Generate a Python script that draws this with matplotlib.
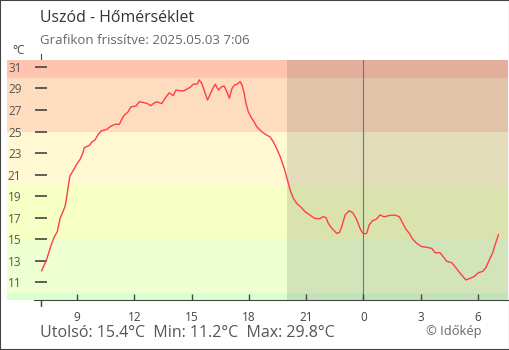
import matplotlib
matplotlib.use('Agg')
import matplotlib.pyplot as plt
from matplotlib.patches import Rectangle

plt.rcParams['font.family'] = ['Open Sans', 'DejaVu Sans']

# idő: órák 05.02 0:00-tól számítva (24 = éjfél)
hours = [7.15, 7.41, 7.62, 7.80, 7.97, 8.11, 8.25, 8.37, 8.46, 8.54, 8.63, 8.81,
         8.98, 9.16, 9.30, 9.38, 9.64, 9.80, 9.94, 10.12, 10.29, 10.56, 10.73,
         10.99, 11.22, 11.34, 11.48, 11.66, 11.83, 12.09, 12.26, 12.47, 12.68,
         12.86, 13.00, 13.17, 13.44, 13.61, 13.83, 14.04, 14.18, 14.39, 14.57,
         14.74, 14.92, 15.09, 15.30, 15.40, 15.53, 15.65, 15.74, 15.84, 15.97,
         16.11, 16.24, 16.40, 16.58, 16.71, 16.84, 16.98, 17.10, 17.24, 17.39,
         17.54, 17.64, 17.75, 17.85, 17.97, 18.10, 18.27, 18.41, 18.67, 18.93,
         19.11, 19.28, 19.46, 19.64, 19.85, 20.02, 20.16, 20.33, 20.51, 20.71,
         20.94, 21.20, 21.47, 21.73, 21.87, 22.04, 22.16, 22.34, 22.60, 22.74,
         22.86, 23.04, 23.25, 23.44, 23.61, 23.73, 23.86, 24.00, 24.17, 24.30,
         24.47, 24.66, 24.87, 25.08, 25.39, 25.65, 25.88, 26.06, 26.23, 26.40,
         26.58, 26.79, 27.05, 27.31, 27.58, 27.75, 28.01, 28.18, 28.36, 28.62,
         28.80, 28.97, 29.15, 29.36, 29.58, 29.79, 30.02, 30.25, 30.42, 30.59,
         30.77, 30.89, 31.07]
temps = [12.05, 13.1, 14.3, 15.16, 15.7, 16.9, 17.5, 18.0, 18.9, 19.9, 20.86, 21.4,
         21.95, 22.4, 22.97, 23.5, 23.7, 24.05, 24.2, 24.77, 25.07, 25.2, 25.45,
         25.67, 25.67, 26.13, 26.53, 26.8, 27.3, 27.37, 27.77, 27.7, 27.6,
         27.4, 27.6, 27.77, 27.6, 28.08, 28.6, 28.33, 28.86, 28.8, 28.77,
         28.93, 29.1, 29.4, 29.42, 29.8, 29.48, 28.86, 28.4, 27.93, 28.46,
         29.0, 29.4, 28.86, 29.17, 29.23, 28.7, 28.09, 28.93, 29.33, 29.4,
         29.64, 29.33, 28.6, 27.6, 26.84, 26.38, 25.9, 25.45, 24.98, 24.67,
         24.5, 24.05, 23.4, 22.66, 21.58, 20.5, 19.56, 18.78, 18.3, 18.0,
         17.54, 17.23, 16.9, 16.9, 17.07, 17.0, 16.46, 16.0, 15.53, 15.6,
         16.14, 17.23, 17.63, 17.45, 16.93, 16.4, 15.84, 15.47, 15.53, 16.3,
         16.7, 16.83, 17.23, 17.07, 17.2, 17.23, 17.07, 16.46, 15.9, 15.53,
         14.98, 14.6, 14.3, 14.23, 14.13, 13.73, 13.73, 13.35, 12.93, 12.8,
         12.43, 12.02, 11.65, 11.2, 11.34, 11.5, 11.87, 12.0, 12.37, 13.05,
         13.73, 14.44, 15.4]

x_ticks = [9, 12, 15, 18, 21, 24, 27, 30]
x_labels = ['9', '12', '15', '18', '21', '0', '3', '6']
y_ticks = [11, 13, 15, 17, 19, 21, 23, 25, 27, 29, 31]

band_edges = [0, 10, 15, 20, 25, 30, 40]
band_colors = ['#dbffce', '#eeffd2', '#f6ffc4', '#fff8d2', '#fddcc0', '#ffc4b0']

update_time = 7.1     # 7:06
night_start = 20
midnight = 24

fig = plt.figure(figsize=(5.1, 3.5), dpi=100)
ax = fig.add_axes([7 / 510, 50 / 350, 501 / 510, 240 / 350])
ax.set_xlim(5.334, 31.57)
ax.set_ylim(9.33, 31.65)

for lo, hi, c in zip(band_edges[:-1], band_edges[1:], band_colors):
    ax.axhspan(lo, hi, color=c, lw=0, zorder=0.2)
ax.axvspan(night_start, 40, color='black', alpha=0.11, lw=0, zorder=0.6)
ax.axvline(midnight, color='#3a86bb', lw=0.8, zorder=1)

ax.plot(hours, temps, color='#ff4040', lw=1.0, zorder=3)

# tengelyek
for s in ['top', 'right']:
    ax.spines[s].set_visible(False)
ax.spines['left'].set_position(('data', update_time))
ax.spines['left'].set_bounds(8.8, 32.2)
ax.spines['left'].set_zorder(0.1)
ax.spines['left'].set_color('#444444')
ax.spines['bottom'].set_bounds(6.75, 31.57)
ax.spines['bottom'].set_color('#444444')

ax.set_yticks(y_ticks)
ax.tick_params(axis='y', direction='inout', length=8.6, width=1.2, color='#444444',
               labelsize=8.5, labelcolor='#555555', pad=9.5)
ax.set_xticks(x_ticks)
ax.set_xticklabels(x_labels)
ax.tick_params(axis='x', direction='in', length=4.5, width=1, color='#444444',
               labelsize=8.5, labelcolor='#444444', pad=8)
ax.set_xticks([update_time], minor=True)
ax.tick_params(axis='x', which='minor', direction='out', length=4.5, width=1,
               color='#444444')
ax.xaxis.get_major_ticks()[x_ticks.index(midnight)].tick1line.set_color('#3a86bb')

# szövegek
fig.text(40 / 510, 1 - 18 / 350, 'Uszód - Hőmérséklet', fontsize=11.4, color='#333333',
         va='center')
fig.text(40 / 510, 1 - 40 / 350, 'Grafikon frissítve: 2025.05.03 7:06', fontsize=9.5,
         color='#666666', va='center')
fig.text(12 / 510, 1 - 50 / 350, '°C', fontsize=8.5, color='#444444', va='center')
fig.text(40 / 510, 1 - 333 / 350,
         f'Utolsó: {temps[-1]:.1f}°C  Min: {min(temps):.1f}°C  Max: {max(temps):.1f}°C',
         fontsize=11.5, color='#555555', va='center')
fig.text(482 / 510, 1 - 332 / 350, '© Időkép', fontsize=9.3, color='#666666',
         va='center', ha='right')

fig.patches.append(Rectangle((0, 0), 1, 1, transform=fig.transFigure, fill=False,
                             edgecolor='#444444', lw=1.5))

fig.savefig('out.png', dpi=100)
